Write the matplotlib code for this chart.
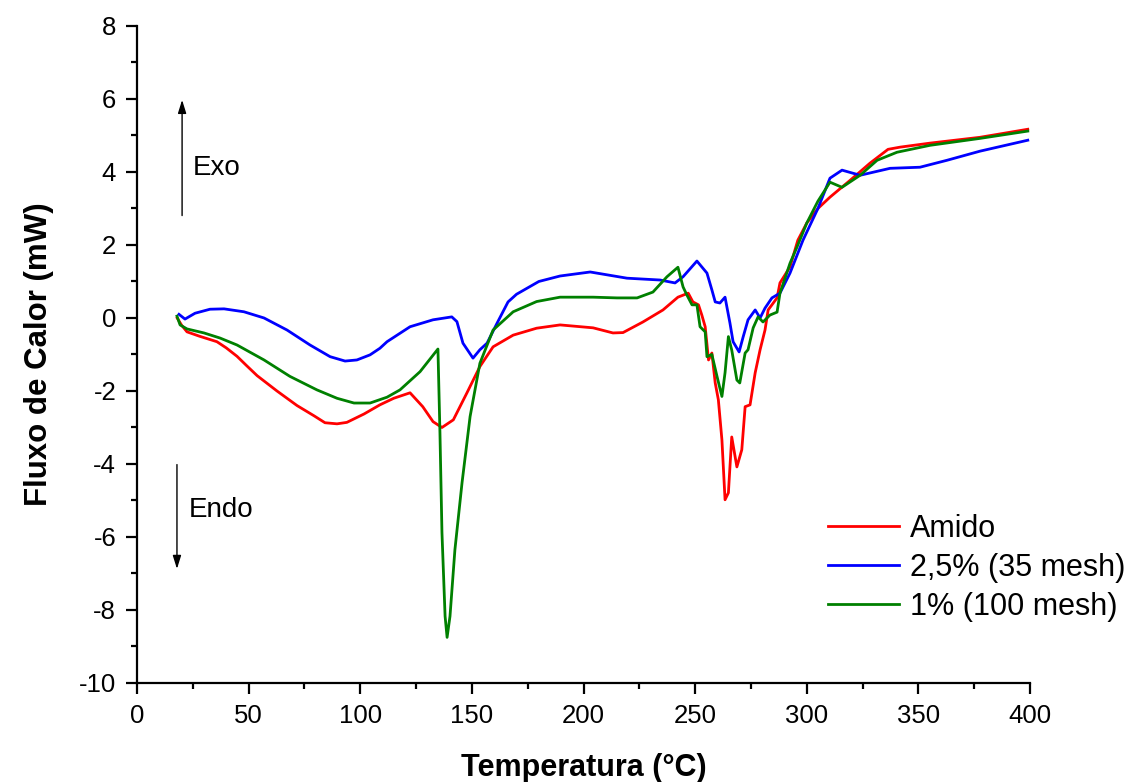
import matplotlib
matplotlib.use("Agg")
import matplotlib.pyplot as plt
from matplotlib.ticker import MultipleLocator

# ---- data ----
amido_T = [18, 20, 22.4, 28, 35.8, 40, 44.8, 49, 53.8, 62.7, 71.7, 79.3, 84.2, 89.6, 94, 101.7,
           108.8, 115, 122.3, 128, 132.6, 136.6, 141.7, 147.8, 153.6, 159.5, 168.5, 179,
           189.5, 204.3, 213.2, 217.7, 226.6, 235.6, 242.3, 246.9, 249, 251.5, 253, 254.5,
           256, 257.5, 259, 260.4, 262, 263.4, 264.9, 266.4, 268.7, 270.9, 272.4, 274.6,
           276.9, 279.1, 281.3, 282.7, 286.7, 288, 292.5, 296, 300, 305, 310.4, 319.4,
           328.3, 336.4, 341.8, 355.2, 377.6, 399]
amido_V = [0.0, -0.2, -0.38, -0.5, -0.65, -0.82, -1.05, -1.3, -1.58, -2.0, -2.4, -2.68, -2.87, -2.9, -2.86,
           -2.63, -2.38, -2.2, -2.05, -2.43, -2.84, -3.0, -2.79, -2.05, -1.33, -0.79, -0.47,
           -0.28, -0.19, -0.27, -0.41, -0.4, -0.11, 0.22, 0.57, 0.68, 0.44, 0.36, 0.08, -0.24,
           -1.15, -0.96, -1.78, -2.24, -3.34, -4.98, -4.79, -3.26, -4.08, -3.61, -2.43, -2.38,
           -1.5, -0.87, -0.33, 0.22, 0.55, 0.96, 1.4, 2.13, 2.6, 3.0, 3.31, 3.77,
           4.24, 4.62, 4.68, 4.79, 4.95, 5.17]

m35_T = [18.8, 21.5, 26, 32.7, 39, 47.9, 56.9, 67.2, 77.5, 86.5, 93.2, 98.5, 104.4, 108.8,
         112, 122.3, 132.6, 141, 143.3, 146, 150.5, 153.6, 156.8, 161.3, 166.2, 170, 180,
         189.5, 203, 219.5, 234.3, 241, 244.6, 250.8, 255.3, 257.5, 259, 261.1, 263.4, 265.6,
         267, 269.7, 271.5, 273.7, 276.9, 279.1, 281.3, 284.4, 288, 292.5, 298.3, 305, 310.4,
         315.8, 323.9, 337.3, 350.7, 362.8, 377.6, 399]
m35_V = [0.1, -0.03, 0.13, 0.24, 0.25, 0.17, 0.0, -0.33, -0.74, -1.06, -1.18, -1.15, -1.01,
         -0.83, -0.65, -0.24, -0.05, 0.03, -0.1, -0.69, -1.1, -0.87, -0.69, -0.14, 0.44, 0.65,
         1.0, 1.15, 1.26, 1.09, 1.04, 0.96, 1.13, 1.56, 1.23, 0.77, 0.44, 0.41, 0.57, -0.14,
         -0.65, -0.93, -0.52, -0.05, 0.22, 0.0, 0.27, 0.55, 0.68, 1.23, 2.13, 3.0, 3.83,
         4.05, 3.91, 4.1, 4.13, 4.32, 4.57, 4.87]

m100_T = [17.9, 19.3, 22.4, 30, 37.2, 44.8, 56.9, 68.5, 80.6, 89.6, 97.2, 104.4, 112, 117.8,
          126.8, 134.8, 135.7, 136.6, 138, 138.9, 140.2, 142.4, 145.6, 149.2, 153.6, 159.5,
          168.5, 179, 189.5, 204.3, 215, 224, 231.1, 237.4, 242.3, 244.6, 246.3, 248.6, 250.8,
          252.2, 254.5, 255.3, 257.5, 259.8, 262, 263.4, 264.9, 266.4, 268.7, 270, 272.4,
          273.7, 276, 278.2, 280.4, 283.5, 286.7, 288, 292.5, 295.6, 300, 305, 310.4, 315.8,
          323.9, 331.5, 340.4, 355.2, 377.6, 399]
m100_V = [0.05, -0.19, -0.3, -0.41, -0.55, -0.74, -1.15, -1.6, -1.97, -2.2, -2.33, -2.33,
          -2.17, -1.97, -1.47, -0.85, -3.15, -5.88, -8.17, -8.75, -8.17, -6.35, -4.51, -2.7,
          -1.24, -0.33, 0.17, 0.45, 0.57, 0.57, 0.55, 0.55, 0.71, 1.13, 1.39, 0.85, 0.63, 0.36,
          0.36, -0.24, -0.38, -1.06, -1.0, -1.6, -2.15, -1.5, -0.51, -0.88, -1.7, -1.78, -0.96,
          -0.87, -0.27, 0.03, -0.11, 0.08, 0.16, 0.68, 1.5, 1.94, 2.6, 3.2, 3.72, 3.58,
          3.91, 4.32, 4.54, 4.73, 4.92, 5.12]

labels = ["Amido", "2,5% (35 mesh)", "1% (100 mesh)"]
colors = ["#ff0000", "#0000ff", "#008000"]

plt.rcParams['font.family'] = ['Liberation Sans', 'DejaVu Sans']
plt.rcParams['axes.unicode_minus'] = False

fig = plt.figure(figsize=(11.35, 7.82), dpi=100)
ax = fig.add_axes([0.1207, 0.1266, 0.7868, 0.8402])

for T, V, lab, c in zip([amido_T, m35_T, m100_T], [amido_V, m35_V, m100_V], labels, colors):
    ax.plot(T, V, color=c, lw=2.0, label=lab, solid_joinstyle='round')

ax.set_xlim(0, 400)
ax.set_ylim(-10, 8)
ax.xaxis.set_major_locator(MultipleLocator(50))
ax.xaxis.set_minor_locator(MultipleLocator(25))
ax.yaxis.set_major_locator(MultipleLocator(2))
ax.yaxis.set_minor_locator(MultipleLocator(1))

for s in ['top', 'right']:
    ax.spines[s].set_visible(False)
for s in ['left', 'bottom']:
    ax.spines[s].set_linewidth(1.6)

ax.tick_params(which='major', direction='out', length=8, width=1.6, labelsize=18.5, pad=7)
ax.tick_params(which='minor', direction='out', length=4.5, width=1.6)

ax.set_xlabel("Temperatura (°C)", fontsize=22, fontweight='bold', labelpad=18)
ax.set_ylabel("Fluxo de Calor (mW)", fontsize=22.5, fontweight='bold', labelpad=18)

# Exo / Endo arrows
ax.annotate("", xy=(20.2, 6.05), xytext=(20.2, 2.73),
            arrowprops=dict(arrowstyle="-|>,head_length=0.8,head_width=0.25", color='black', lw=1.0))
ax.text(25, 4.1, "Exo", fontsize=20, va='center', ha='left')
ax.annotate("", xy=(17.9, -6.95), xytext=(17.9, -3.94),
            arrowprops=dict(arrowstyle="-|>,head_length=0.8,head_width=0.25", color='black', lw=1.0))
ax.text(23, -5.25, "Endo", fontsize=20, va='center', ha='left')

leg = ax.legend(loc='lower right', bbox_to_anchor=(1.12, 0.074), frameon=False, fontsize=22,
                handlelength=2.35, handletextpad=0.33, labelspacing=0.3, borderaxespad=0)

fig.savefig("out.png", dpi=100)
